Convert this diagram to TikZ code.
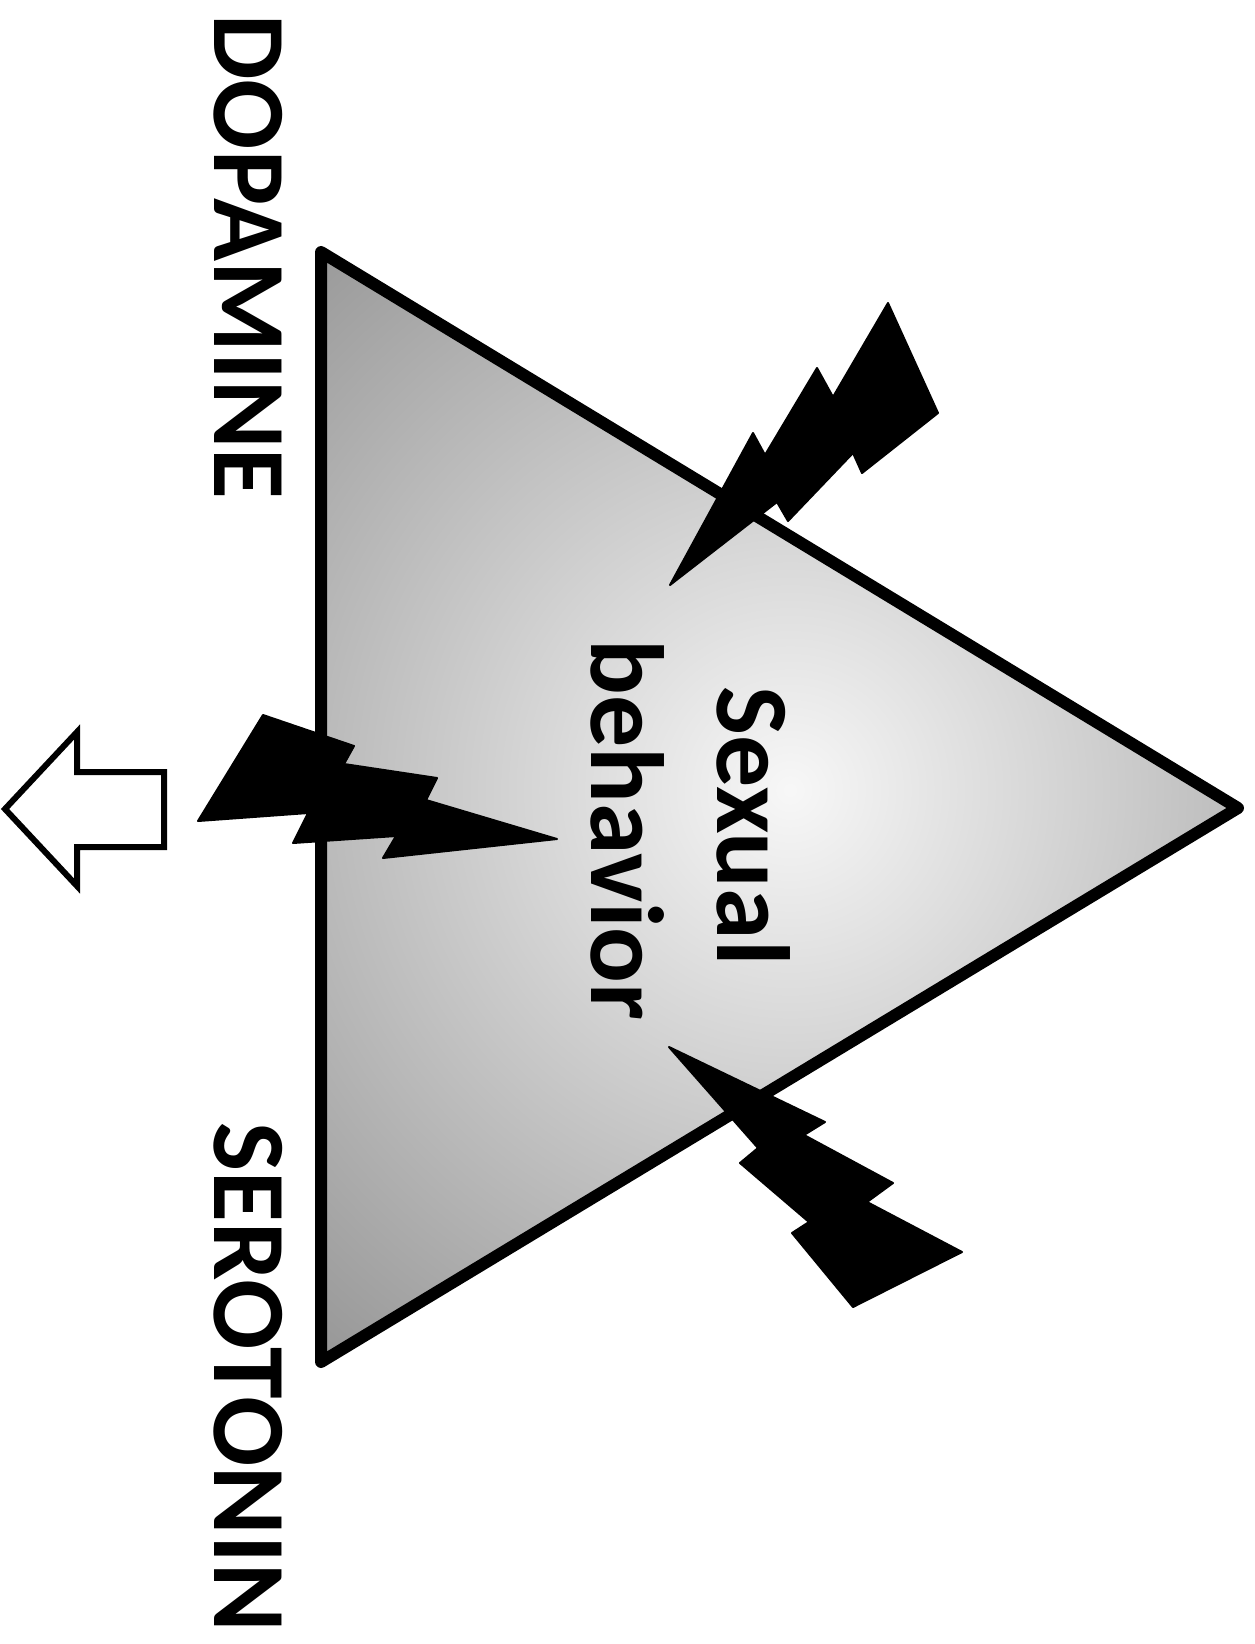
\documentclass[tikz,border=0pt]{standalone}
\usepackage{fontspec}
\setmainfont{Carlito}[BoldFont={Carlito Bold}]
\definecolor{shadeIn}{gray}{0.97}
\definecolor{shadeOut}{gray}{0.58}
\pgfdeclareradialshading{triglow}{\pgfpoint{0bp}{0bp}}{color(0bp)=(shadeIn); color(25bp)=(shadeOut); color(50bp)=(shadeOut)}
\begin{document}
\begin{tikzpicture}[x=0.5pt,y=-0.5pt,
  txt/.style={font=\fontsize{52}{60}\selectfont\bfseries, rotate=-90, anchor=base, inner sep=0pt},
  bolt/.style={fill=black, draw=black, line width=1pt, line join=round},
  edgeline/.style={draw=black, line width=6pt, line join=round},
  hollow/.style={draw=black, fill=white, line width=3pt, line join=miter}]
\useasboundingbox (0,0) rectangle (1254,1644);
% triangle
\coordinate (t1) at (321,252);
\coordinate (t2) at (1238,808);
\coordinate (t3) at (321,1362);
\coordinate (glow) at (790,790);
\begin{scope}
  \clip (t1) -- (t2) -- (t3) -- cycle;
  \shade[shading=triglow] (glow) circle (380pt);
\end{scope}
\draw[edgeline] (t1) -- (t2) -- (t3) -- cycle;
% labels
\node[txt] (dopamine) at (214,257) {DOPAMINE};
\node[txt] (serotonin) at (214,1377) {SEROTONIN};
\node[txt] (sexual) at (717,826) {Sexual};
\node[txt] (behavior) at (591,830) {behavior};
% hollow arrow
\draw[hollow] (5,809) -- (77,732) -- (77,772) -- (164,772) -- (164,847) -- (77,847) -- (77,886) -- cycle;
% left bolt
\draw[bolt] (263,715) -- (354,746) -- (344,764) -- (437,778) -- (426,800) -- (557,839)
  -- (383,858) -- (396,836) -- (293,843) -- (308,813) -- (198,821) -- cycle;
% top-right bolt
\draw[bolt] (888,303) -- (938,413) -- (862,473) -- (853,453) -- (788,521) -- (777,502)
  -- (670,585) -- (753,433) -- (765,455) -- (817,368) -- (833,397) -- cycle;
% bottom-right bolt
\draw[bolt] (669,1047) -- (825,1122) -- (804,1135) -- (893,1183) -- (867,1202) -- (962,1252)
  -- (853,1307) -- (792,1233) -- (809,1222) -- (740,1163) -- (758,1148) -- cycle;
\end{tikzpicture}
\end{document}
